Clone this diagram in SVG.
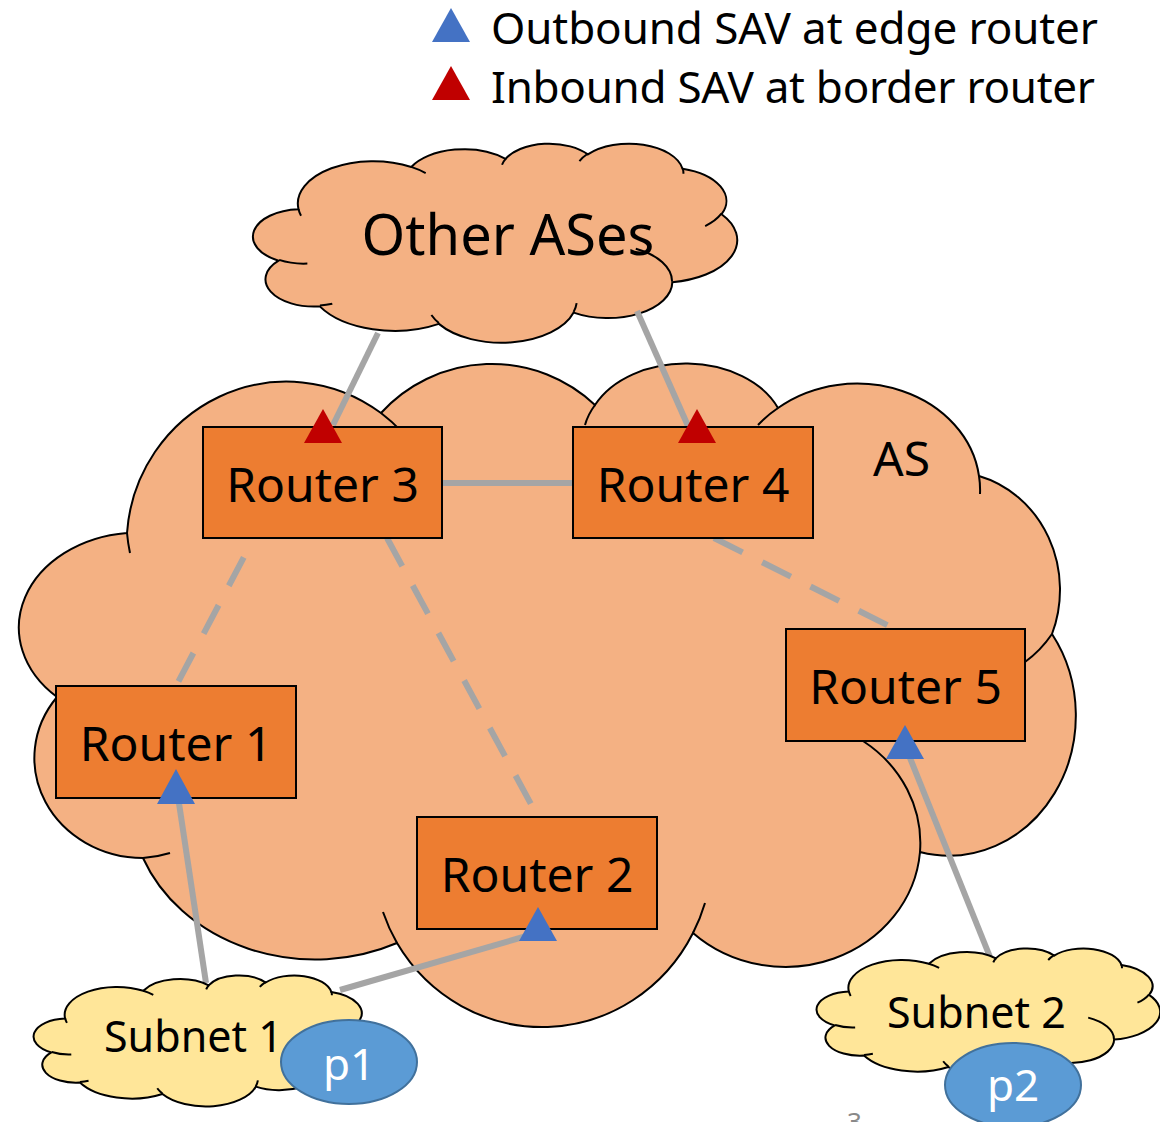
<svg xmlns="http://www.w3.org/2000/svg" xmlns:xlink="http://www.w3.org/1999/xlink" width="1160" height="1122" viewBox="0 0 1160 1122">
  <style>
    .cloud-body { stroke: #000; stroke-width: 2; vector-effect: non-scaling-stroke; }
    .crease { fill: none; stroke: #000; stroke-width: 2; vector-effect: non-scaling-stroke; }
    .as-fill { fill: #F4B183; }
    .subnet-fill { fill: #FFE699; }
    .box { fill: #ED7D31; stroke: #000; stroke-width: 2; }
    .txt { font-family: "Noto Sans", "Open Sans", "DejaVu Sans", sans-serif; fill: #000; }
    .link { fill: none; stroke: #A5A5A5; stroke-width: 6; }
    .dash { stroke-dasharray: 32 22; }
    .sav-out { fill: #4472C4; }
    .sav-in { fill: #C00000; }
    .prefix { fill: #5B9BD5; stroke: #41719C; stroke-width: 2; }
  </style>
  <defs>
    <!-- generic cloud outline in a 43200 x 43200 box -->
    <path id="cloudBody" class="cloud-body" d="M3900,14370 A6753,9190 0 0 1 14006,5203 A5333,7267 0 0 1 22457,3432 A4365,5945 0 0 1 29834,2481 A4857,6595 0 0 1 38319,5576 A5333,7273 0 0 1 41820,15460 A6775,9220 0 0 1 37406,30204 A5785,7867 0 0 1 28558,36814 A6752,9215 0 0 1 16483,39267 A7720,10543 0 0 1 5807,35472 A4360,5918 0 0 1 2116,25550 A4345,5945 0 0 1 3900,14370 Z"/>
    <path id="cloudCrease" class="crease" d="M4693,26177 A4345,5945 0 0 1 2161,25380 M6928,34899 A4360,5918 0 0 1 5819,35281 M16478,39090 A6752,9215 0 0 1 15810,37349 M28827,34751 A6752,9215 0 0 1 28561,36660 M34129,22954 A5785,7867 0 0 1 37381,30090 M41798,15354 A5333,7273 0 0 1 40349,18031 M38324,5426 A4857,6595 0 0 1 38400,6689 M29078,3952 A4857,6595 0 0 1 29819,2341 M22141,4720 A4365,5945 0 0 1 22500,3330 M14000,5192 A6753,9190 0 0 1 15299,6540 M4127,15789 A6753,9190 0 0 1 3900,14371"/>
  </defs>

  <!-- legend -->
  <g id="legend">
    <polygon class="sav-out" points="451,8 432,42 470,42"/>
    <text class="txt" x="491" y="44" font-size="44" textLength="607">Outbound SAV at edge router</text>
    <polygon class="sav-in" points="451,66 432,100 470,100"/>
    <text class="txt" x="491" y="103" font-size="44" textLength="604">Inbound SAV at border router</text>
  </g>

  <!-- the AS -->
  <g id="as-cloud">
    <path class="cloud-body as-fill" d="M127,533 A160,163 0 0 1 381,413 A150,150 0 0 1 595,405 A100,72 0 0 1 778,408 A123,105 0 0 1 979,476 A110,118 0 0 1 1052,634 A127,140 0 0 1 920,852 A135,125 0 0 1 693,933 A170,175 0 0 1 397,943 A185,160 0 0 1 143,858 A109,100 0 0 1 57,697 A120,95 0 0 1 127,533 Z"/>
    <path class="crease" d="M130,553 A160,163 0 0 1 127,533 M381,413 A160,163 0 0 1 402,432 M585,425 A100,72 0 0 1 595,405 M758,425 A123,105 0 0 1 778,408 M979,476 A123,105 0 0 1 980,494 M1052,634 A110,118 0 0 1 1025,662 M863,741 A135,125 0 0 1 920,852 M705,903 A170,175 0 0 1 693,933 M397,943 A170,175 0 0 1 383,912 M170,853 A109,100 0 0 1 143,858"/>
    <text class="txt" x="873" y="476" font-size="48">AS</text>
  </g>

  <!-- neighbouring ASes -->
  <g id="other-ases">
    <g transform="translate(255,143) scale(0.011157,0.0046065)">
      <use xlink:href="#cloudBody" class="as-fill"/>
      <use xlink:href="#cloudCrease"/>
    </g>
    <text class="txt" x="508" y="255" font-size="56" text-anchor="middle">Other ASes</text>
  </g>

  <!-- links -->
  <g id="connectors">
    <path class="link" d="M378,333 L333,425"/>
    <path class="link" d="M637,311 L688,426"/>
    <path class="link" d="M442,483 L573,483"/>
    <path class="link dash" stroke-dashoffset="32" d="M254,538 L176,686"/>
    <path class="link dash" d="M387,538 L538,817"/>
    <path class="link dash" d="M714,538 L895,629"/>
    <path class="link" d="M206,983 L177,790"/>
    <path class="link" d="M340,990 L530,935"/>
    <path class="link" d="M990,957 L906,748"/>
  </g>

  <g id="subnet-1">
    <g transform="translate(35,975) scale(0.0077315,0.0030324)">
      <use xlink:href="#cloudBody" class="subnet-fill"/>
      <use xlink:href="#cloudCrease"/>
    </g>
    <text class="txt" x="104" y="1052" font-size="43">Subnet 1</text>
  </g>

  <g id="subnet-2">
    <g transform="translate(818,948) scale(0.0079167,0.0030324)">
      <use xlink:href="#cloudBody" class="subnet-fill"/>
      <use xlink:href="#cloudCrease"/>
    </g>
    <text class="txt" x="887" y="1028" font-size="43">Subnet 2</text>
  </g>

  <g id="router-3">
    <rect class="box" x="203" y="427" width="239" height="111"/>
    <text class="txt" x="322.5" y="502" font-size="48" text-anchor="middle">Router 3</text>
    <polygon class="sav-in" points="323,409 304,443 342,443"/>
  </g>

  <g id="router-4">
    <rect class="box" x="573" y="427" width="240" height="111"/>
    <text class="txt" x="693" y="502" font-size="48" text-anchor="middle">Router 4</text>
    <polygon class="sav-in" points="697,409 678,443 716,443"/>
  </g>

  <g id="router-1">
    <rect class="box" x="56" y="686" width="240" height="112"/>
    <text class="txt" x="176" y="761" font-size="48" text-anchor="middle">Router 1</text>
    <polygon class="sav-out" points="176,769 157,804 195,804"/>
  </g>

  <g id="router-2">
    <rect class="box" x="417" y="817" width="240" height="112"/>
    <text class="txt" x="537" y="892" font-size="48" text-anchor="middle">Router 2</text>
    <polygon class="sav-out" points="538,907 519,941 557,941"/>
  </g>

  <g id="router-5">
    <rect class="box" x="786" y="629" width="239" height="112"/>
    <text class="txt" x="905.5" y="704" font-size="48" text-anchor="middle">Router 5</text>
    <polygon class="sav-out" points="905,725 886,759 924,759"/>
  </g>

  <g id="prefix-p1">
    <ellipse class="prefix" cx="349" cy="1062" rx="68" ry="42"/>
    <text class="txt" x="349" y="1080" font-size="44" text-anchor="middle" style="fill:#fff">p1</text>
  </g>

  <g id="prefix-p2">
    <ellipse class="prefix" cx="1013" cy="1085" rx="68" ry="42"/>
    <text class="txt" x="1013" y="1101" font-size="44" text-anchor="middle" style="fill:#fff">p2</text>
  </g>

  <!-- page number -->
  <text class="txt" x="847" y="1131" font-size="26" style="fill:#898989">3</text>
</svg>
